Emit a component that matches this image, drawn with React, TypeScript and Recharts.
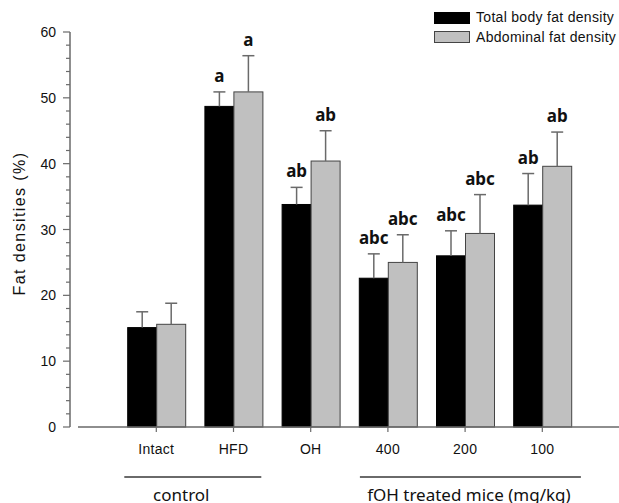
import { Bar, BarChart, Legend, XAxis, YAxis } from "recharts";

const groups = ["Intact", "HFD", "OH", "400", "200", "100"];
const totalFat = [15.1, 48.7, 33.8, 22.6, 26.0, 33.7];
const totalErr = [2.4, 2.2, 2.6, 3.7, 3.8, 4.8];
const totalLetters = ["", "a", "ab", "abc", "abc", "ab"];
const abdFat = [15.6, 50.9, 40.4, 25.0, 29.4, 39.6];
const abdErr = [3.2, 5.5, 4.6, 4.2, 5.9, 5.2];
const abdLetters = ["", "a", "ab", "abc", "abc", "ab"];
const yTicks = [0, 2, 4, 6, 8, 10, 12, 14, 16, 18, 20, 22, 24, 26, 28, 30, 32, 34, 36, 38, 40, 42, 44, 46, 48, 50, 52, 54, 56, 58, 60];

const data = groups.map((g, i) => ({
  group: g,
  total: totalFat[i],
  totalErr: totalErr[i],
  totalLetter: totalLetters[i],
  abd: abdFat[i],
  abdErr: abdErr[i],
  abdLetter: abdLetters[i]
}));

const AXIS = "#6a6a6a";
const SANS = "'Liberation Sans', Arial, sans-serif";

const makeShape = (key: "total" | "abd", fill: string, stroke: string) => (props: unknown) => {
  const { x, y, width, height, payload } = props as {
    x: number;
    y: number;
    width: number;
    height: number;
    payload: Record<string, number | string>;
  };
  const mean = payload[key] as number;
  const err = payload[key + "Err"] as number;
  const letter = payload[key + "Letter"] as string;
  const perUnit = height / mean;
  const cx = x + width / 2;
  const top = y - err * perUnit;
  return (
    <g>
      <rect x={x} y={y} width={width} height={height} fill={fill} stroke={stroke} strokeWidth={1} />
      <line x1={cx} y1={y} x2={cx} y2={top} stroke={AXIS} strokeWidth={1.5} />
      <line x1={cx - 6} y1={top} x2={cx + 6} y2={top} stroke={AXIS} strokeWidth={1.5} />
      {letter && (
        <text x={cx} y={top - 10} textAnchor="middle" fontFamily="'Noto Sans', sans-serif" fontWeight={700} fontSize={17} fill="#111">
          {letter}
        </text>
      )}
    </g>
  );
};

const YTick = (props: unknown) => {
  const { x, y, payload } = props as { x: number; y: number; payload: { value: number } };
  const major = payload.value % 10 === 0;
  return (
    <g>
      <line x1={x - (major ? 7 : 4)} y1={y} x2={x} y2={y} stroke={AXIS} strokeWidth={1.2} />
      {major && (
        <text x={x - 14} y={y + 5} textAnchor="end" fontFamily={SANS} fontSize={14} fill="#111">
          {payload.value}
        </text>
      )}
    </g>
  );
};

const XTick = (props: unknown) => {
  const { x, y, payload, index } = props as { x: number; y: number; payload: { value: string }; index: number };
  return (
    <g>
      <text x={x} y={y + 20} textAnchor="middle" fontFamily={SANS} fontSize={14} letterSpacing={0.3} fill="#111">
        {payload.value}
      </text>
      {index === 0 && (
        <g>
          <line x1={x - 32} y1={y + 43} x2={x + 105} y2={y + 43} stroke={AXIS} strokeWidth={2} />
          <text x={x + 25} y={y + 67} textAnchor="middle" fontFamily="'Noto Sans', sans-serif" fontSize={17} fill="#111">
            control
          </text>
        </g>
      )}
      {index === 3 && (
        <g>
          <line x1={x - 28} y1={y + 43} x2={x + 193} y2={y + 43} stroke={AXIS} strokeWidth={2} />
          <text x={x + 81} y={y + 67} textAnchor="middle" fontFamily="'Noto Sans', sans-serif" fontSize={17} fill="#111">
            fOH treated mice (mg/kg)
          </text>
        </g>
      )}
    </g>
  );
};

const renderLegend = () => (
  <svg width={187} height={40}>
    <rect x={2.5} y={4.5} width={35} height={11} fill="#000" stroke="#000" />
    <text x={44} y={14} fontFamily={SANS} fontSize={14} letterSpacing={0.3} fill="#111">
      Total body fat density
    </text>
    <rect x={2.5} y={23.5} width={35} height={11} fill="#c0c0c0" stroke="#444" />
    <text x={44} y={33.5} fontFamily={SANS} fontSize={14} letterSpacing={0.3} fill="#111">
      Abdominal fat density
    </text>
  </svg>
);

const renderYLabel = (props: unknown) => {
  const { viewBox } = props as { viewBox: { x: number; y: number; width: number; height: number } };
  const cx = viewBox.x + 14.5;
  const cy = 223.5;
  return (
    <text
      x={cx}
      y={cy}
      transform={`rotate(-90 ${cx} ${cy})`}
      textAnchor="middle"
      fontFamily={SANS}
      fontSize={16}
      letterSpacing={1.4}
      fill="#111"
    >
      Fat densities (%)
    </text>
  );
};

export default function App() {
  return (
    <div style={{ position: "absolute", left: 0, top: 0, background: "#fff" }}>
      <BarChart
        width={619}
        height={503}
        data={data}
        margin={{ top: 32, right: 0, bottom: 46, left: 10 }}
        barGap={0}
        barSize={29}
      >
        <XAxis
          dataKey="group"
          interval={0}
          padding={{ left: 47.7, right: 38.1 }}
          height={30}
          axisLine={{ stroke: AXIS, strokeWidth: 1.5, strokeDasharray: "0 8 700" }}
          tickLine={{ stroke: AXIS, strokeWidth: 1.2 }}
          tickSize={5}
          tickMargin={2}
          tick={XTick}
        />
        <YAxis
          width={60}
          domain={[0, 60]}
          ticks={yTicks}
          interval={0}
          tickSize={0}
          tickMargin={0}
          tickLine={false}
          axisLine={{ stroke: AXIS, strokeWidth: 1.5 }}
          tick={YTick}
          label={renderYLabel}
        />
        <Legend
          layout="vertical"
          align="center"
          verticalAlign="middle"
          content={renderLegend}
          wrapperStyle={{ position: "absolute", top: 8, left: 432, width: 187, height: 40 }}
        />
        <Bar dataKey="total" name="Total body fat density" fill="#000" isAnimationActive={false} shape={makeShape("total", "#000", "#000")} />
        <Bar dataKey="abd" name="Abdominal fat density" fill="#c0c0c0" isAnimationActive={false} shape={makeShape("abd", "#c0c0c0", "#444")} />
      </BarChart>
    </div>
  );
}
